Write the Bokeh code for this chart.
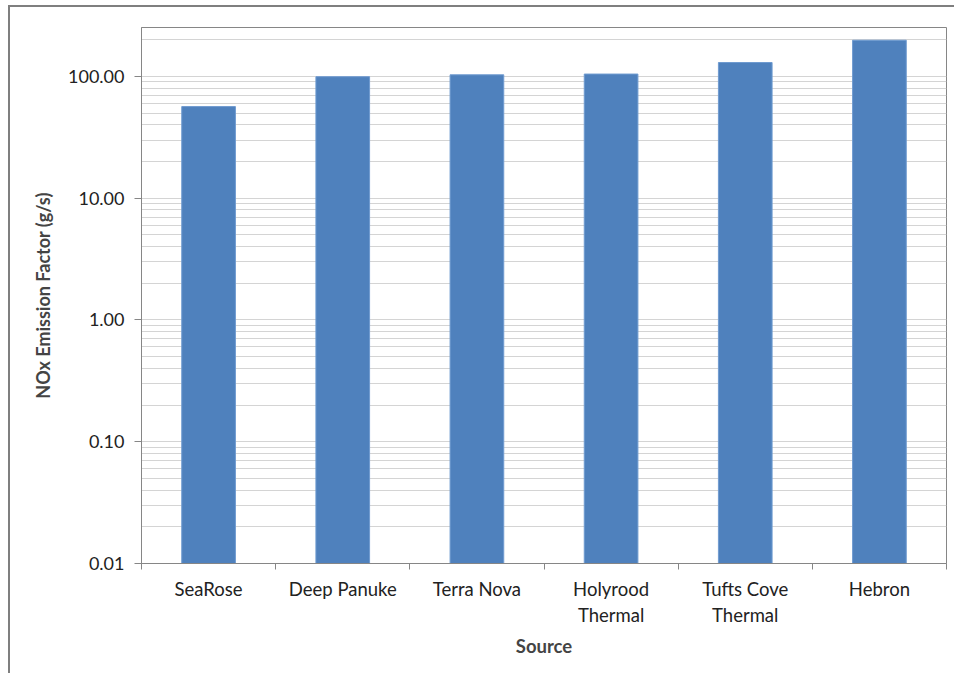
import numpy as np
from bokeh.plotting import figure
from bokeh.models import (ColumnDataSource, FixedTicker, NumeralTickFormatter,
                          Range1d)
from bokeh.embed import file_html
from bokeh.resources import INLINE

sources = ["SeaRose", "Deep Panuke", "Terra Nova", "Holyrood\nThermal",
           "Tufts Cove\nThermal", "Hebron"]
nox = [56.5, 99.4, 103.0, 104.5, 130.0, 198.0]
y_ticks = [0.01, 0.1, 1, 10, 100]

FONT = "Lato"
AXIS_GRAY = "#868686"
GRID_GRAY = "#d4d4d4"

xpos = np.arange(len(sources)) + 0.5
src = ColumnDataSource(dict(x=xpos, top=nox, name=sources))

# figure canvas starts at (10, 7) because of the outer border drawn by CSS
p = figure(width=946, height=668, output_backend="svg", toolbar_location=None,
           y_axis_type="log", x_range=Range1d(0, len(sources)),
           y_range=Range1d(0.01, 252),
           min_border_left=131, min_border_right=10,
           min_border_top=20, min_border_bottom=112)
p.styles = {"margin-left": "8px", "margin-top": "5px",
            "border-left": "2px solid #7f7f7f", "border-top": "2px solid #7f7f7f"}

p.vbar(x="x", top="top", bottom=0.01, width=0.4, source=src,
       fill_color="#4F81BD", line_color="#6f9bd0", line_width=1)

# y axis
minor = [m * 10.0 ** e for e in range(-2, 3) for m in range(2, 10)]
p.yaxis.ticker = FixedTicker(ticks=y_ticks, minor_ticks=minor)
p.yaxis.formatter = NumeralTickFormatter(format="0.00")
p.yaxis.axis_label = "NOx Emission Factor (g/s)"
p.yaxis.axis_label_text_font = FONT
p.yaxis.axis_label_text_font_style = "bold"
p.yaxis.axis_label_text_font_size = "18px"
p.yaxis.axis_label_standoff = 11
p.yaxis.major_label_text_font = FONT
p.yaxis.major_label_text_font_size = "18px"
p.yaxis.major_label_text_color = "#222222"
p.yaxis.major_label_standoff = 10
p.yaxis.axis_line_color = AXIS_GRAY
p.yaxis.major_tick_line_color = AXIS_GRAY
p.yaxis.major_tick_out = 7
p.yaxis.major_tick_in = 0
p.yaxis.minor_tick_line_color = None

# x axis
p.xaxis.ticker = FixedTicker(ticks=list(xpos), minor_ticks=list(range(len(sources) + 1)))
p.xaxis.major_label_overrides = {float(x): s for x, s in zip(xpos, sources)}
p.xaxis.major_tick_line_color = None
p.xaxis.minor_tick_line_color = AXIS_GRAY
p.xaxis.minor_tick_out = 6
p.xaxis.minor_tick_in = 0
p.xaxis.axis_line_color = AXIS_GRAY
p.xaxis.major_label_text_font = FONT
p.xaxis.major_label_text_font_size = "18.5px"
p.xaxis.major_label_text_color = "#222222"
p.xaxis.major_label_standoff = 8
p.xaxis.axis_label = "Source"
p.xaxis.axis_label_text_font = FONT
p.xaxis.axis_label_text_font_style = "bold"
p.xaxis.axis_label_text_font_size = "18.5px"
p.xaxis.axis_label_standoff = 6

p.xgrid.grid_line_color = None
p.ygrid.grid_line_color = GRID_GRAY
p.ygrid.grid_line_width = 1
p.ygrid.minor_grid_line_color = GRID_GRAY
p.ygrid.minor_grid_line_width = 1

p.outline_line_color = AXIS_GRAY
p.outline_line_width = 1

open("out.html", "w").write(file_html(p, INLINE))
